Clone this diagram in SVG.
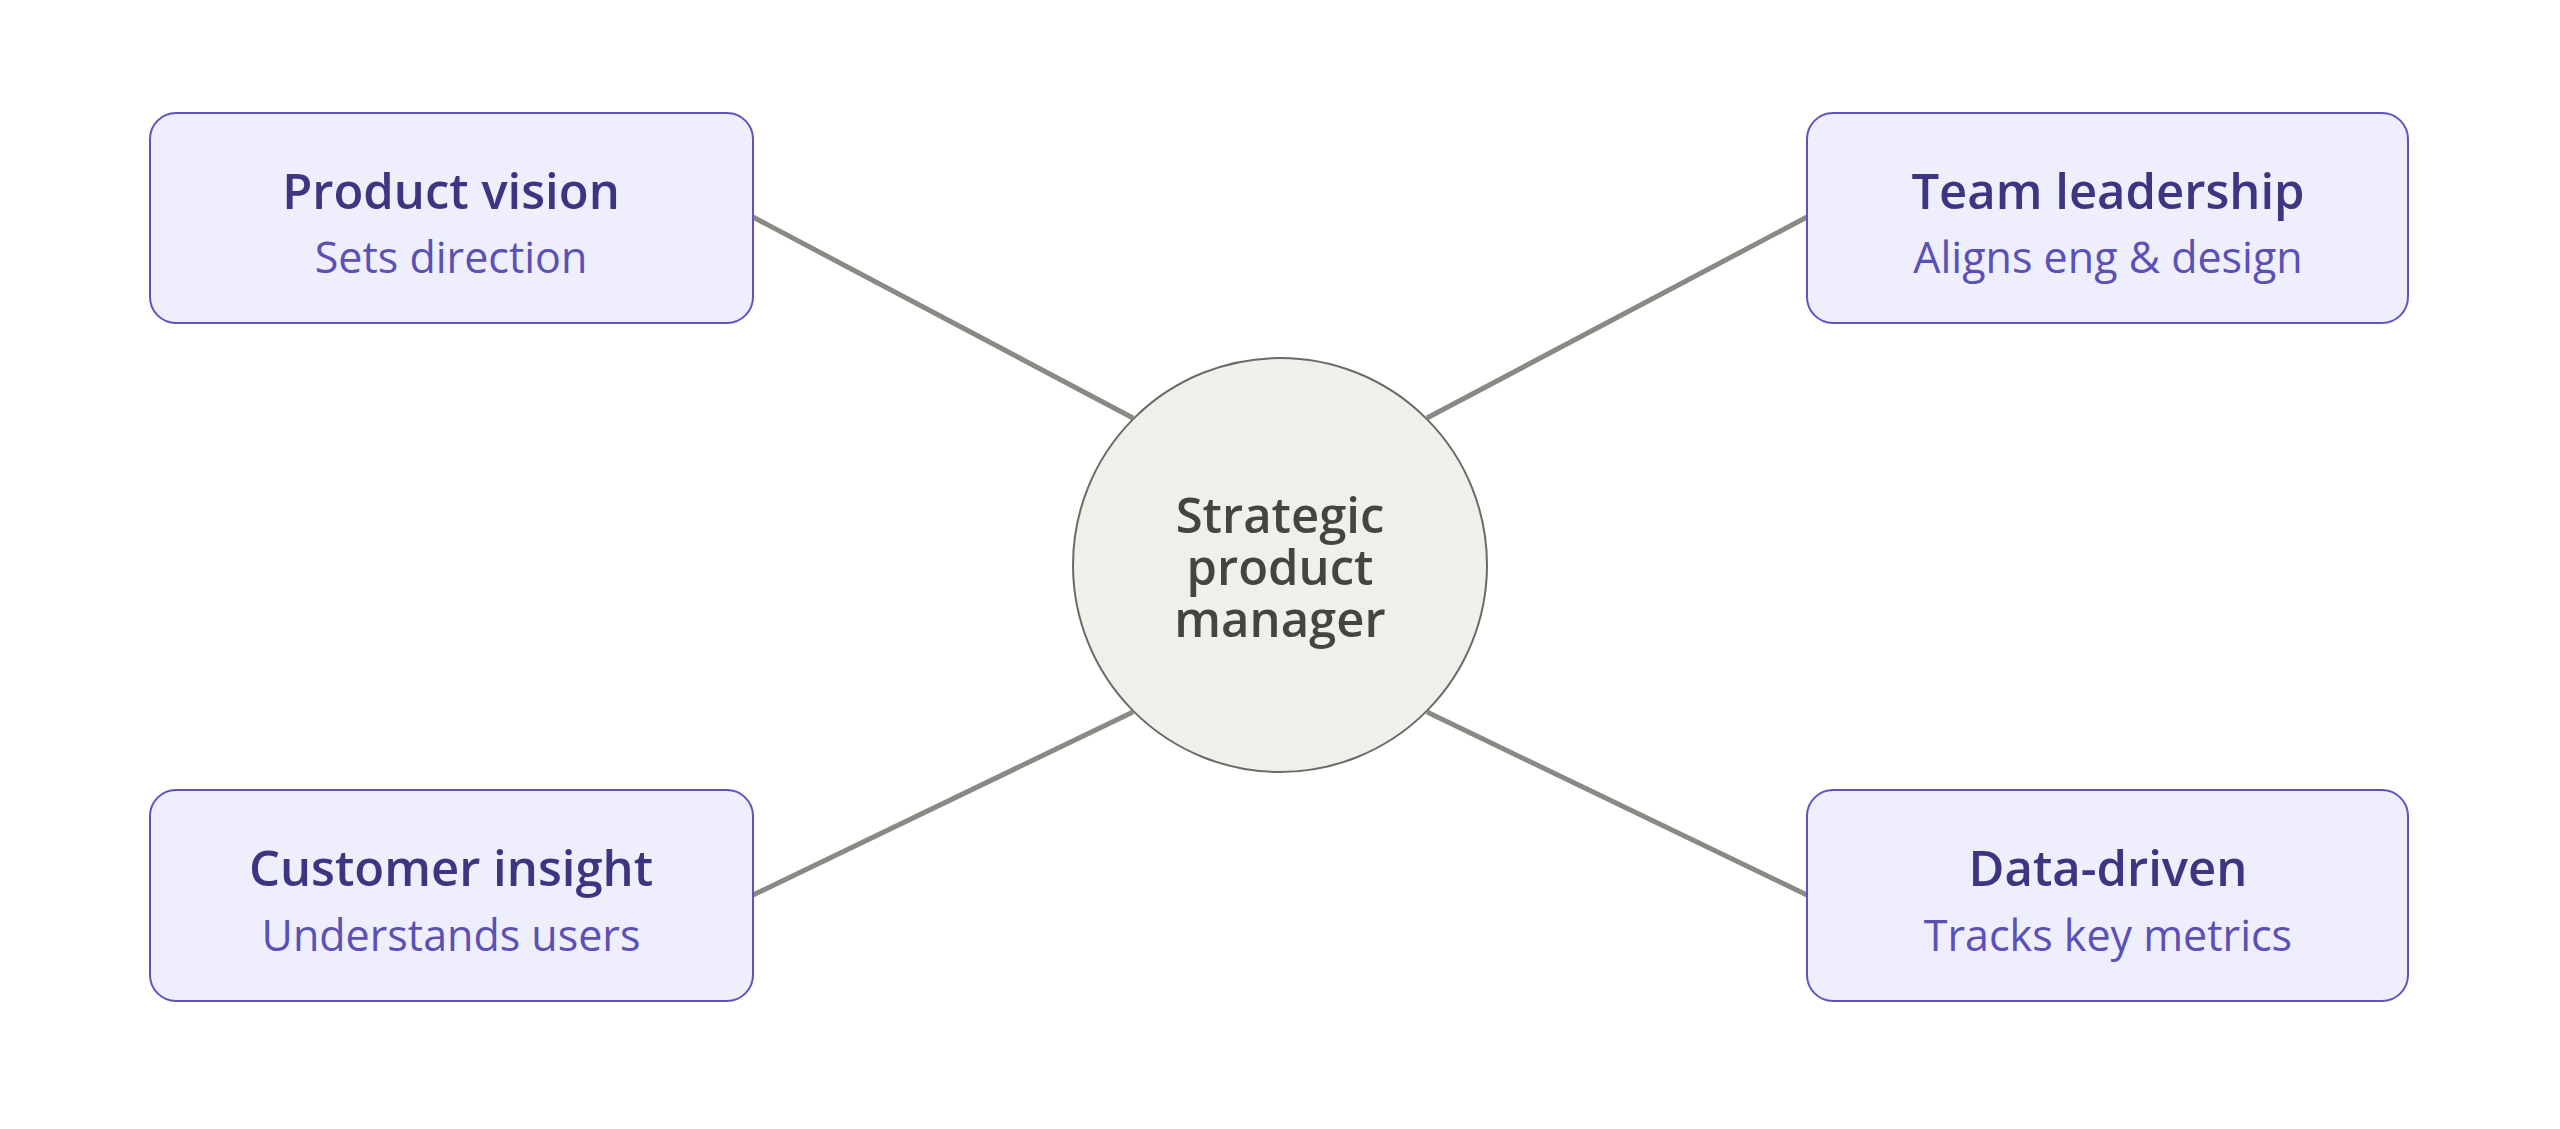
<svg xmlns="http://www.w3.org/2000/svg" width="2560" height="1129" viewBox="0 0 2560 1129">
<style>
.box{fill:#EEEEFC;stroke:#5E54BE;stroke-width:2}
.t{font-family:"Open Sans","Noto Sans",sans-serif;font-weight:600;font-size:49px;fill:#3D3582;text-anchor:middle}
.s{font-family:"Open Sans","Noto Sans",sans-serif;font-size:43px;fill:#5A50B5;text-anchor:middle}
.c{font-family:"Open Sans","Noto Sans",sans-serif;font-weight:600;font-size:49px;fill:#444440;text-anchor:middle}
.ln{stroke:#8A8A84;stroke-width:5}
</style>
<rect width="2560" height="1129" fill="#fff"/>
<g id="connectors">
<line class="ln" x1="753" y1="217" x2="1133" y2="418"/>
<line class="ln" x1="1807" y1="217" x2="1427" y2="418"/>
<line class="ln" x1="753" y1="895" x2="1133" y2="712"/>
<line class="ln" x1="1807" y1="895" x2="1427" y2="712"/>
</g>
<g id="center">
<circle cx="1280" cy="565" r="207" fill="#F0F0EB" stroke="#6B6B66" stroke-width="2"/>
<text class="c" x="1280" y="533">Strategic</text>
<text class="c" x="1280" y="585">product</text>
<text class="c" x="1280" y="637">manager</text>
</g>
<g id="vision">
<rect class="box" x="150" y="113" width="603" height="210" rx="26"/>
<text class="t" x="451" y="209">Product vision</text>
<text class="s" x="451" y="273">Sets direction</text>
</g>
<g id="team">
<rect class="box" x="1807" y="113" width="601" height="210" rx="26"/>
<text class="t" x="2108" y="209">Team leadership</text>
<text class="s" x="2108" y="273">Aligns eng &amp; design</text>
</g>
<g id="customer">
<rect class="box" x="150" y="790" width="603" height="211" rx="26"/>
<text class="t" x="451" y="886">Customer insight</text>
<text class="s" x="451" y="951">Understands users</text>
</g>
<g id="data">
<rect class="box" x="1807" y="790" width="601" height="211" rx="26"/>
<text class="t" x="2108" y="886">Data-driven</text>
<text class="s" x="2108" y="951">Tracks key metrics</text>
</g>
</svg>
